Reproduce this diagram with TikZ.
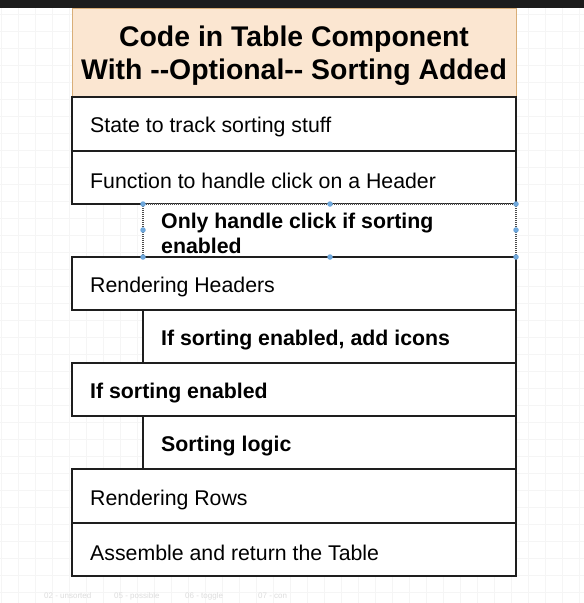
\documentclass[tikz,border=0pt]{standalone}
\usepackage{fontspec}
\setmainfont{Liberation Sans}[Ligatures=TeXOff]
\definecolor{peach}{HTML}{FBE6D1}
\definecolor{peachline}{HTML}{D9AE78}
\definecolor{boxline}{HTML}{1E1E1E}
\definecolor{gridc}{HTML}{F5F5F5}
\definecolor{handle}{HTML}{6FA8DC}
\definecolor{topbar}{HTML}{1C1C1C}
\definecolor{faint}{HTML}{DDDDDD}
\begin{document}
\begin{tikzpicture}[x=1pt,y=-1pt,
  rowbox/.style={draw=boxline,line width=1.6pt,fill=white},
  rowtext/.style={anchor=west,inner sep=0pt,font=\fontsize{21.3}{25}\selectfont},
  subtext/.style={anchor=west,inner sep=0pt,font=\fontsize{21.3}{25}\selectfont\bfseries,align=left},
  titletext/.style={font=\fontsize{28.4}{33}\selectfont\bfseries,align=center,inner sep=0pt},
  handledot/.style={circle,fill=handle,inner sep=0pt,minimum size=5.5pt},
  uitext/.style={text=faint,font=\fontsize{8}{9}\selectfont,inner sep=0pt}]
\useasboundingbox (0,0) rectangle (584,603);
\fill[white] (0,0) rectangle (584,603);
% grid
\foreach \gx in {1,18,...,584} \draw[gridc,line width=0.6pt] (\gx,8) -- (\gx,603);
\foreach \gy in {14,31,...,603} \draw[gridc,line width=0.6pt] (0,\gy) -- (584,\gy);
% top bar
\fill[topbar] (0,0) rectangle (584,8);
\node[uitext,anchor=west] (saved) at (92,20) {All changes saved};
% header
\draw[draw=peachline,fill=peach,line width=1pt] (72,8) rectangle (516,97);
\node[titletext] (title) at (294,56) {Code in Table Component\\With --Optional-- Sorting Added};
% rows
\draw[rowbox] (72,97) rectangle (516,151);
\node[rowtext] (r1) at (90,127) {State to track sorting stuff};
\draw[rowbox] (72,151) rectangle (516,204);
\node[rowtext] (r2) at (90,181) {Function to handle click on a Header};
\draw[draw=boxline!80,fill=white,line width=1.4pt,dash pattern=on 1.2pt off 0.8pt] (143,204) rectangle (516,257);
\node[subtext] (s1) at (161,233) {Only handle click if sorting\\enabled};
\draw[rowbox] (72,257) rectangle (516,310);
\node[rowtext] (r3) at (90,287) {Rendering Headers};
\draw[rowbox] (143,310) rectangle (516,363);
\node[subtext] (s2) at (161,340) {If sorting enabled, add icons};
\draw[rowbox] (72,363) rectangle (516,416);
\node[subtext] (r4) at (90,393) {If sorting enabled};
\draw[rowbox] (143,416) rectangle (516,469);
\node[subtext] (s3) at (161,446) {Sorting logic};
\draw[rowbox] (72,469) rectangle (516,523);
\node[rowtext] (r5) at (90,500) {Rendering Rows};
\draw[rowbox] (72,523) rectangle (516,576);
\node[rowtext] (r6) at (90,553) {Assemble and return the Table};
% selection handles
\foreach \hx/\hy in {143/204,330/204,516/204,143/230,516/230,143/257,330/257,516/257}
  \node[handledot] at (\hx,\hy) {};
% bottom tabs
\node[uitext,anchor=west] (t1) at (44,596) {02 - unsorted};
\node[uitext,anchor=west] (t2) at (114,596) {05 - possible};
\node[uitext,anchor=west] (t3) at (185,596) {06 - toggle};
\node[uitext,anchor=west] (t4) at (258,596) {07 - con};
\end{tikzpicture}
\end{document}
